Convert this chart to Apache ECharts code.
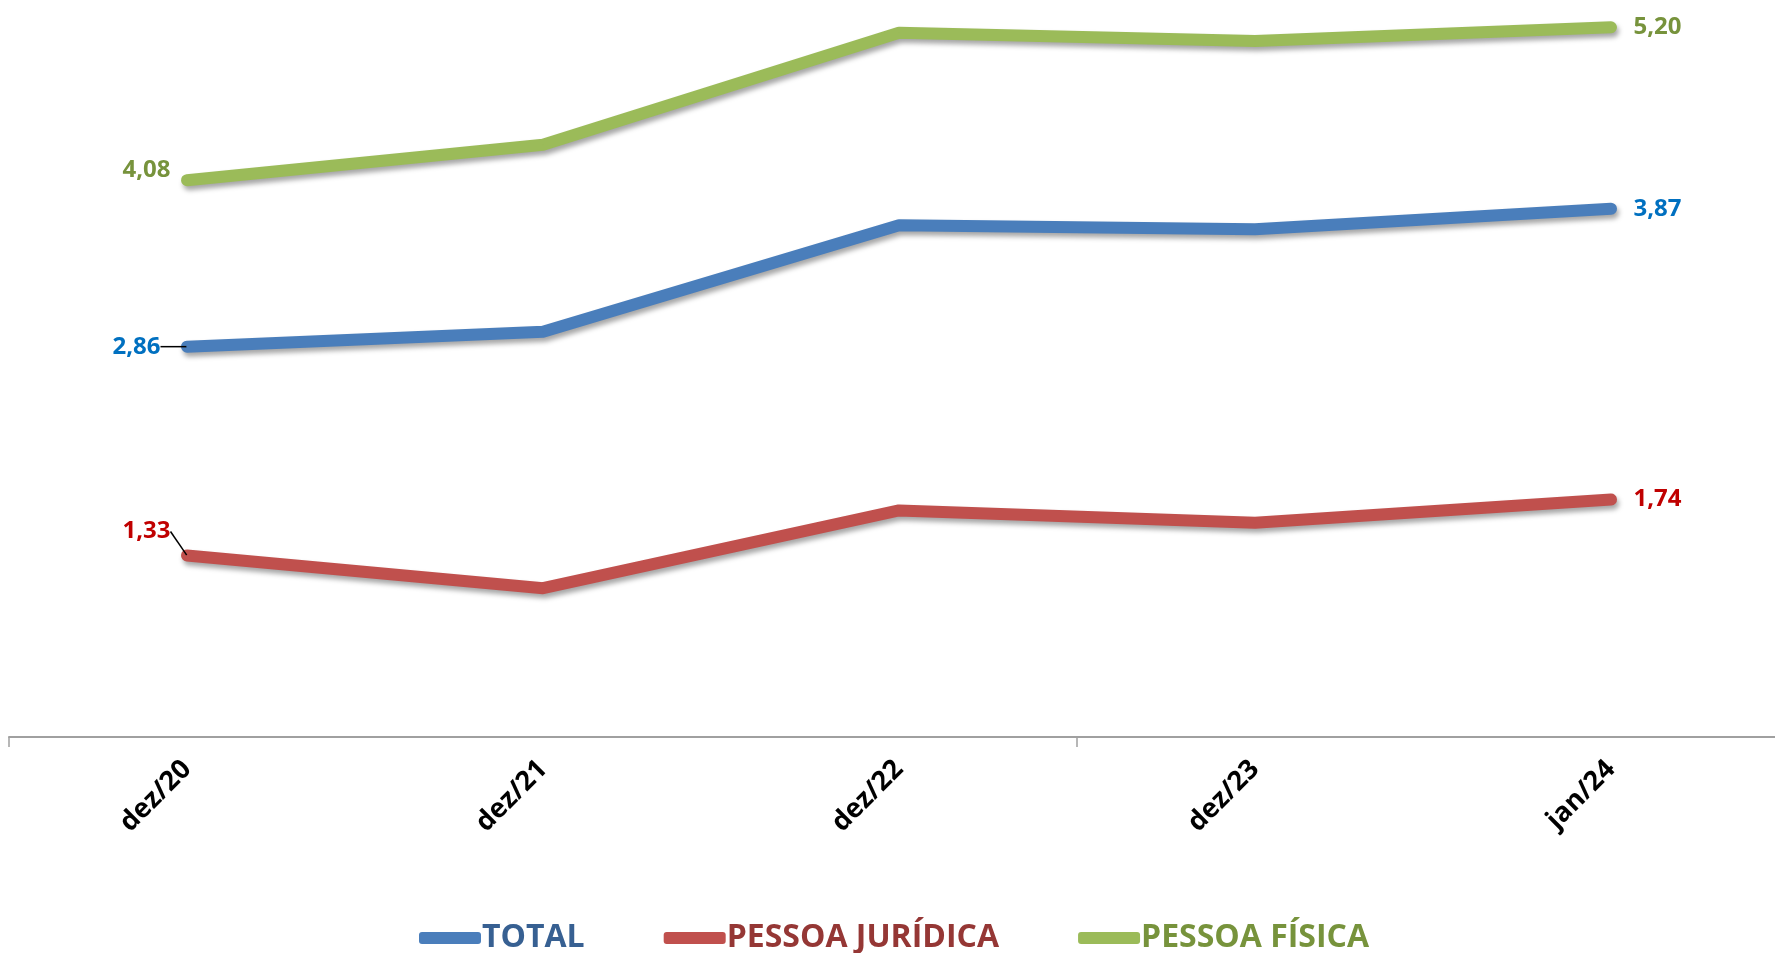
<!DOCTYPE html>
<html>
<head>
<meta charset="utf-8">
<script src="https://cdn.jsdelivr.net/npm/echarts@6/dist/echarts.min.js"></script>
<style>
  html, body { margin: 0; padding: 0; background: #fff; }
  #chart { width: 1775px; height: 953px; }
</style>
</head>
<body>
<div id="chart"></div>
<script>
const categorias = ['dez/20', 'dez/21', 'dez/22', 'dez/23', 'jan/24']
const total = [2.86, 2.97, 3.75, 3.72, 3.87]
const pessoaJuridica = [1.33, 1.09, 1.66, 1.57, 1.74]
const pessoaFisica = [4.08, 4.34, 5.16, 5.10, 5.20]

const fonte = '"Open Sans", sans-serif'

// only first and last points carry a value label; some first labels get a leader line
const comRotulos = (valores, corRotulo, guia, distancia) => valores.map((v, i) => {
  if (i === 0) return {
    value: v,
    label: {show: true, position: 'left', color: corRotulo, distance: distancia},
    labelLine: {show: guia}
  }
  if (i === valores.length - 1) return {value: v, label: {show: true, position: 'right', color: corRotulo, distance: 22}}
  return v
})

const serie = (nome, valores, corLinha, corRotulo, dy, guia, distancia) => ({
  name: nome,
  type: 'line',
  data: comRotulos(valores, corRotulo, guia, distancia),
  symbol: 'circle',
  symbolSize: 1,
  itemStyle: {color: corLinha},
  lineStyle: {
    color: corLinha, width: 12, cap: 'round', join: 'round',
    shadowColor: 'rgba(0,0,0,0.35)', shadowBlur: 5, shadowOffsetX: 2, shadowOffsetY: 4
  },
  label: {
    show: false,
    distance: 16,
    fontFamily: fonte,
    fontWeight: 'bold',
    fontSize: 24,
    formatter: p => p.value.toFixed(2).replace('.', ',')
  },
  labelLine: {show: false, lineStyle: {color: '#000', width: 1.5}},
  labelLayout: p => (p.dataIndex === 0 ? {dy: dy} : {}),
  animation: false
})

const chart = echarts.init(document.getElementById('chart'))
chart.setOption({
  backgroundColor: '#fff',
  grid: {left: 9, width: 1780, top: 0, bottom: 216, outerBoundsMode: 'none', containLabel: false},
  xAxis: {
    type: 'category',
    data: categorias,
    boundaryGap: true,
    axisLine: {lineStyle: {color: '#a0a0a0', width: 2}},
    axisTick: {show: true, interval: 2, length: 10, lineStyle: {color: '#a0a0a0', width: 1.5}},
    axisLabel: {
      rotate: 45,
      margin: 28,
      color: '#000',
      fontFamily: fonte,
      fontWeight: 'bold',
      fontSize: 27
    },
    splitLine: {show: false}
  },
  yAxis: {
    type: 'value',
    min: 0,
    max: 5.4,
    show: false,
    splitLine: {show: false}
  },
  legend: {
    bottom: -6,
    left: 414,
    itemWidth: 62,
    itemHeight: 12,
    itemGap: 79,
    icon: 'roundRect',
    textStyle: {fontFamily: fonte, fontWeight: 'bold', fontSize: 32, padding: [0, 0, 0, -4]},
    data: [
      {name: 'TOTAL', textStyle: {color: '#376092'}},
      {name: 'PESSOA JURÍDICA', textStyle: {color: '#953735'}},
      {name: 'PESSOA FÍSICA', textStyle: {color: '#77933C'}}
    ]
  },
  series: [
    serie('TOTAL', total, '#4A7EBB', '#0070C0', 0, true, 26),
    serie('PESSOA JURÍDICA', pessoaJuridica, '#C0504D', '#C00000', -24, true, 16),
    serie('PESSOA FÍSICA', pessoaFisica, '#9BBB59', '#77933C', -10, false, 16)
  ]
})
window.onresize = function () {
  chart.resize()
}
</script>
</body>
</html>
